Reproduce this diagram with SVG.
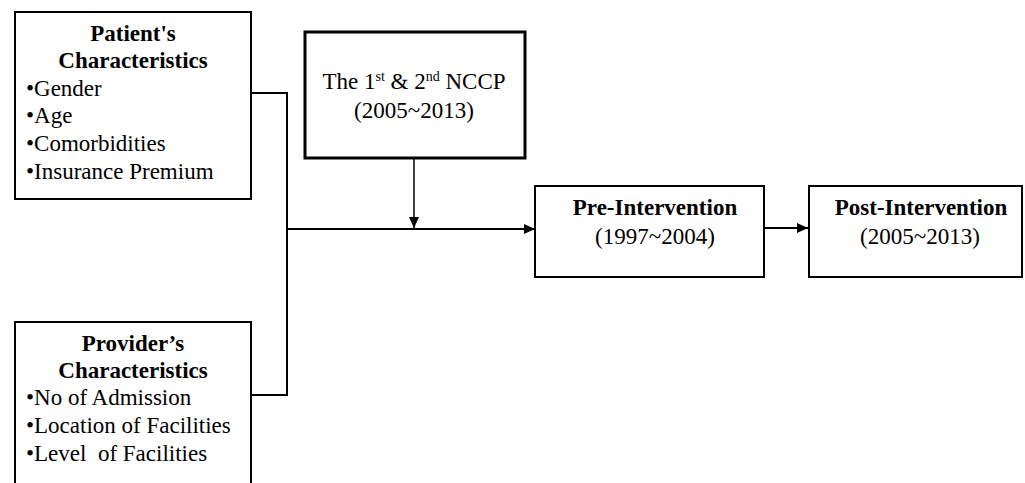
<svg xmlns="http://www.w3.org/2000/svg" width="1025" height="483" viewBox="0 0 1025 483">
<style>
.box{fill:#fff;stroke:#000;stroke-width:2}
.thick{stroke-width:3}
text{font-family:"Liberation Serif","Times New Roman",serif;font-size:23px;fill:#000}
.b{font-weight:bold}
.c{text-anchor:middle}
.ln{fill:none;stroke:#000;stroke-width:2}
</style>
<defs>
<marker id="ah" markerWidth="12" markerHeight="12" refX="11" refY="6" orient="auto" markerUnits="userSpaceOnUse">
<path d="M0,1 L11,6 L0,11 Z" fill="#000"/>
</marker>
</defs>
<rect width="1025" height="483" fill="#fff"/>
<g id="connectors">
<polyline class="ln" points="251,93 287,93 287,395 251,395"/>
<line class="ln" x1="287" y1="229" x2="535" y2="229" marker-end="url(#ah)"/>
<line class="ln" x1="414" y1="158" x2="414" y2="228" style="stroke-width:1.5" marker-end="url(#ah)"/>
<line class="ln" x1="764" y1="228" x2="808" y2="228" marker-end="url(#ah)"/>
</g>
<g id="patient">
<rect class="box" x="15" y="12" width="236" height="187"/>
<text class="b c" x="133" y="41">Patient's</text>
<text class="b c" x="133" y="68">Characteristics</text>
<text x="26" y="96">•Gender</text>
<text x="26" y="123">•Age</text>
<text x="26" y="151">•Comorbidities</text>
<text x="26" y="179">•Insurance Premium</text>
</g>
<g id="provider">
<rect class="box" x="15" y="322" width="236" height="175"/>
<text class="b c" x="133" y="351">Provider’s</text>
<text class="b c" x="133" y="378">Characteristics</text>
<text x="26" y="405">•No of Admission</text>
<text x="26" y="433">•Location of Facilities</text>
<text x="26" y="461">•Level&#160; of Facilities</text>
</g>
<g id="nccp">
<rect class="box thick" x="305" y="32" width="220" height="126"/>
<text class="c" x="414" y="89">The 1<tspan font-size="14" dy="-8">st</tspan><tspan dy="8"> &amp; 2</tspan><tspan font-size="14" dy="-8">nd</tspan><tspan dy="8"> NCCP</tspan></text>
<text class="c" x="414" y="118">(2005~2013)</text>
</g>
<g id="pre">
<rect class="box" x="535" y="186" width="229" height="91"/>
<text class="b c" x="655" y="215">Pre-Intervention</text>
<text class="c" x="655" y="244">(1997~2004)</text>
</g>
<g id="post">
<rect class="box" x="809" y="186" width="213" height="91"/>
<text class="b c" x="921" y="215">Post-Intervention</text>
<text class="c" x="920" y="244">(2005~2013)</text>
</g>
</svg>
